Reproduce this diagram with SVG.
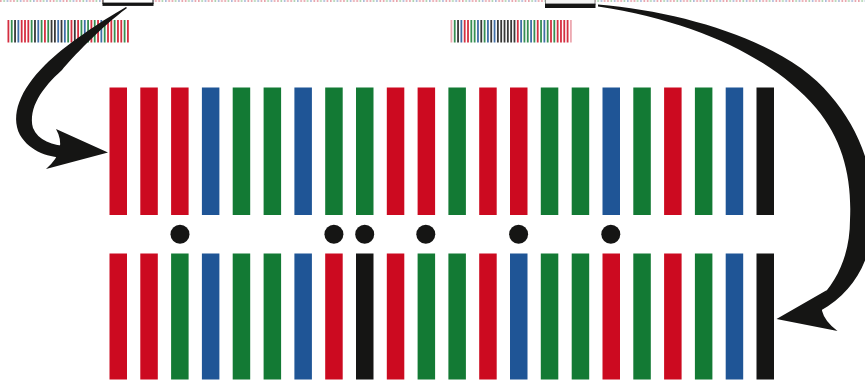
<svg xmlns="http://www.w3.org/2000/svg" width="865" height="381" viewBox="0 0 865 381">
<defs>
<style>
.r{fill:#cc0a20}.g{fill:#137a34}.b{fill:#1f5596}.k{fill:#151514}
.mini rect{width:1.8px;height:22.5px;opacity:0.85}
.dot{fill:#151514}
.conn{fill:#151514}
</style>
<pattern id="strip" x="0" y="0" width="13.2" height="3" patternUnits="userSpaceOnUse">
<rect x="0" y="0" width="1.6" height="2" fill="#e8a2aa"/>
<rect x="3.3" y="0" width="1.6" height="2" fill="#a9d2ad"/>
<rect x="6.6" y="0" width="1.6" height="2" fill="#aab9da"/>
<rect x="9.9" y="0" width="1.6" height="2" fill="#e8a2aa"/>
</pattern>
</defs>
<rect width="865" height="381" fill="#ffffff"/>
<rect id="top-strip" x="0" y="0" width="865" height="2" fill="url(#strip)"/>

<g id="box-left">
<rect x="103" y="-2" width="50" height="5.5" fill="#ffffff" stroke="#1a1a1a" stroke-width="1"/>
<rect x="102.5" y="2.6" width="51" height="3.3" class="k"/>
</g>
<g id="box-right">
<rect x="545.5" y="-2" width="49.5" height="6.5" fill="#f4f4f4" stroke="#8a8a8a" stroke-width="1"/>
<rect x="545" y="3.6" width="50.5" height="4.4" class="k"/>
</g>

<g id="mini-left" class="mini" transform="translate(7.5,20)">
<rect x="0" class="r"/><rect x="3.32" class="g"/><rect x="6.64" class="k"/><rect x="9.96" class="b"/><rect x="13.28" class="r"/><rect x="16.6" class="r"/><rect x="19.92" class="r"/><rect x="23.24" class="g"/><rect x="26.56" class="k"/><rect x="29.88" class="b"/><rect x="33.2" class="g"/><rect x="36.52" class="r"/><rect x="39.84" class="g"/><rect x="43.16" class="k"/><rect x="46.48" class="k"/><rect x="49.8" class="b"/><rect x="53.12" class="k"/><rect x="56.44" class="b"/><rect x="59.76" class="g"/><rect x="63.08" class="r"/><rect x="66.4" class="k"/><rect x="69.72" class="r"/><rect x="73.04" class="g"/><rect x="76.36" class="b"/><rect x="79.68" class="g"/><rect x="83" class="r"/><rect x="86.32" class="g"/><rect x="89.64" class="r"/><rect x="92.96" class="b"/><rect x="96.28" class="g"/><rect x="99.6" class="r"/><rect x="102.92" class="r"/><rect x="106.24" class="g"/><rect x="109.56" class="r"/><rect x="112.88" class="r"/><rect x="116.2" class="g"/><rect x="119.52" class="r"/>
</g>
<g id="mini-right" class="mini" transform="translate(450.5,20)">
<rect x="0" class="r" style="opacity:0.35"/><rect x="3.32" class="g"/><rect x="6.64" class="k"/><rect x="9.96" class="b"/><rect x="13.28" class="r"/><rect x="16.6" class="r"/><rect x="19.92" class="g"/><rect x="23.24" class="g"/><rect x="26.56" class="b"/><rect x="29.88" class="k"/><rect x="33.2" class="g"/><rect x="36.52" class="b"/><rect x="39.84" class="k"/><rect x="43.16" class="b"/><rect x="46.48" class="k"/><rect x="49.8" class="k"/><rect x="53.12" class="k"/><rect x="56.44" class="k"/><rect x="59.76" class="k"/><rect x="63.08" class="k"/><rect x="66.4" class="r"/><rect x="69.72" class="b"/><rect x="73.04" class="g"/><rect x="76.36" class="g"/><rect x="79.68" class="b"/><rect x="83" class="g"/><rect x="86.32" class="r"/><rect x="89.64" class="g"/><rect x="92.96" class="b"/><rect x="96.28" class="g"/><rect x="99.6" class="r"/><rect x="102.92" class="g"/><rect x="106.24" class="r"/><rect x="109.56" class="r"/><rect x="112.88" class="r"/><rect x="116.2" class="r"/><rect x="119.52" class="r" style="opacity:0.35"/>
</g>

<g id="top-row">
<rect x="109.5" y="87.5" width="17.5" height="127.5" class="r"/>
<rect x="140.3" y="87.5" width="17.5" height="127.5" class="r"/>
<rect x="171.1" y="87.5" width="17.5" height="127.5" class="r"/>
<rect x="201.9" y="87.5" width="17.5" height="127.5" class="b"/>
<rect x="232.7" y="87.5" width="17.5" height="127.5" class="g"/>
<rect x="263.6" y="87.5" width="17.5" height="127.5" class="g"/>
<rect x="294.4" y="87.5" width="17.5" height="127.5" class="b"/>
<rect x="325.2" y="87.5" width="17.5" height="127.5" class="g"/>
<rect x="356" y="87.5" width="17.5" height="127.5" class="g"/>
<rect x="386.8" y="87.5" width="17.5" height="127.5" class="r"/>
<rect x="417.6" y="87.5" width="17.5" height="127.5" class="r"/>
<rect x="448.4" y="87.5" width="17.5" height="127.5" class="g"/>
<rect x="479.2" y="87.5" width="17.5" height="127.5" class="r"/>
<rect x="510" y="87.5" width="17.5" height="127.5" class="r"/>
<rect x="540.8" y="87.5" width="17.5" height="127.5" class="g"/>
<rect x="571.7" y="87.5" width="17.5" height="127.5" class="g"/>
<rect x="602.5" y="87.5" width="17.5" height="127.5" class="b"/>
<rect x="633.3" y="87.5" width="17.5" height="127.5" class="g"/>
<rect x="664.1" y="87.5" width="17.5" height="127.5" class="r"/>
<rect x="694.9" y="87.5" width="17.5" height="127.5" class="g"/>
<rect x="725.7" y="87.5" width="17.5" height="127.5" class="b"/>
<rect x="756.5" y="87.5" width="17.5" height="127.5" class="k"/>
</g>

<g id="mutations">
<circle cx="180" cy="234.3" r="9.5" class="dot"/>
<circle cx="333.9" cy="234.3" r="9.5" class="dot"/>
<circle cx="364.7" cy="234.3" r="9.5" class="dot"/>
<circle cx="425.8" cy="234.3" r="9.5" class="dot"/>
<circle cx="518.6" cy="234.3" r="9.5" class="dot"/>
<circle cx="610.8" cy="234.3" r="9.5" class="dot"/>
</g>

<g id="bottom-row">
<rect x="109.5" y="253.5" width="17.5" height="126" class="r"/>
<rect x="140.3" y="253.5" width="17.5" height="126" class="r"/>
<rect x="171.1" y="253.5" width="17.5" height="126" class="g"/>
<rect x="201.9" y="253.5" width="17.5" height="126" class="b"/>
<rect x="232.7" y="253.5" width="17.5" height="126" class="g"/>
<rect x="263.6" y="253.5" width="17.5" height="126" class="g"/>
<rect x="294.4" y="253.5" width="17.5" height="126" class="b"/>
<rect x="325.2" y="253.5" width="17.5" height="126" class="r"/>
<rect x="356" y="253.5" width="17.5" height="126" class="k"/>
<rect x="386.8" y="253.5" width="17.5" height="126" class="r"/>
<rect x="417.6" y="253.5" width="17.5" height="126" class="g"/>
<rect x="448.4" y="253.5" width="17.5" height="126" class="g"/>
<rect x="479.2" y="253.5" width="17.5" height="126" class="r"/>
<rect x="510" y="253.5" width="17.5" height="126" class="b"/>
<rect x="540.8" y="253.5" width="17.5" height="126" class="g"/>
<rect x="571.7" y="253.5" width="17.5" height="126" class="g"/>
<rect x="602.5" y="253.5" width="17.5" height="126" class="r"/>
<rect x="633.3" y="253.5" width="17.5" height="126" class="g"/>
<rect x="664.1" y="253.5" width="17.5" height="126" class="r"/>
<rect x="694.9" y="253.5" width="17.5" height="126" class="g"/>
<rect x="725.7" y="253.5" width="17.5" height="126" class="b"/>
<rect x="756.5" y="253.5" width="17.5" height="126" class="k"/>
</g>

<g id="connectors" class="conn">
<path id="arrow-left" d="M126,7 C100,22 65,45 45,65 C20,90 10,115 20,135 C30,152 50,158 68,158 L70,146 C52,146 38,140 33,128 C28,108 42,88 62,70 C72,58 100,28 127,8 Z"/>
<path id="arrowhead-left" d="M108,152.5 L56,129 Q68,150 46,169 Z"/>
<path id="arrow-right" d="M598,4.5 C690,12 790,45 830,95 C860,130 875,170 873,220 C872,258 855,292 820,311 L816,302 C840,280 850,250 850,220 C852,178 843,140 816,108 C775,60 700,22 598,6.5 Z"/>
<path id="arrowhead-right" d="M776.5,319 L827,290 Q812,312 837.5,331 Z"/>
</g>
</svg>
